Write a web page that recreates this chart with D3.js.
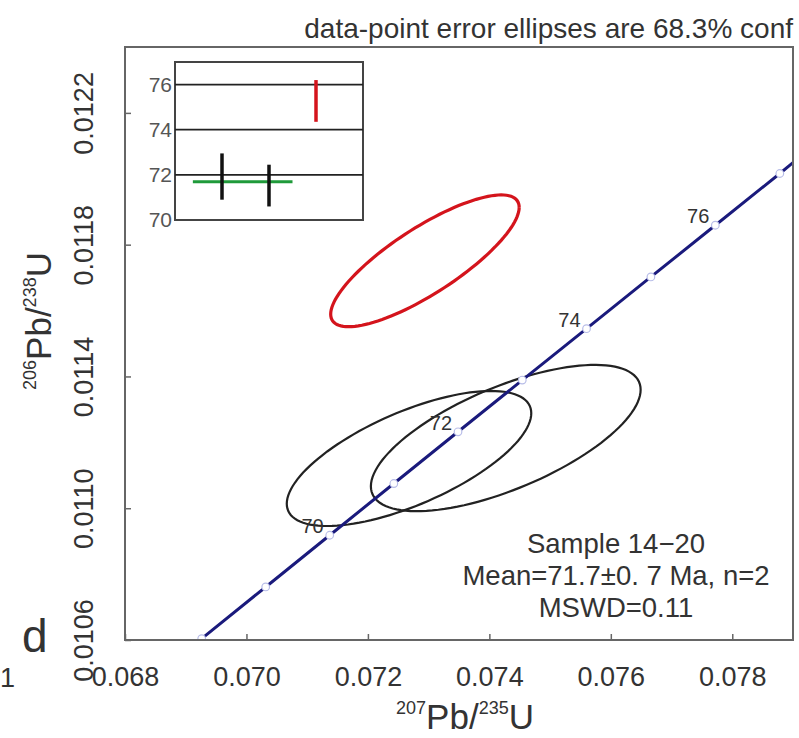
<!DOCTYPE html>
<html lang="en">
<head>
<meta charset="UTF-8">
<title>Concordia</title>
<style>
body { margin: 0; background: #fff; }
svg { font-family: "Liberation Sans", Arial, sans-serif; }
.lbl { fill: #333; }
</style>
</head>
<body>
<script src="https://cdn.jsdelivr.net/npm/d3@7/dist/d3.min.js"></script>
<script>
// concordia age marks (Ma) and their ratios
var markerAges = [68, 69, 70, 71, 72, 73, 74, 75, 76, 77];
var markerX = [0.069263, 0.070317, 0.071371, 0.072427, 0.073484, 0.074542, 0.075600, 0.076660, 0.077721, 0.078783];
var markerY = [0.010604, 0.010761, 0.010918, 0.011075, 0.011232, 0.011389, 0.011545, 0.011702, 0.011859, 0.012016];
var labelAges = [70, 72, 74, 76];
var lineEndX = 0.0790, lineEndY = 0.012049;

// data-point ellipses: centre, half extents, correlation
var ellNames = ["grain A", "grain B", "grain C"];
var ellCx = [0.072677, 0.074270, 0.072939];
var ellCy = [0.011151, 0.011213, 0.011751];
var ellSx = [0.002013, 0.002221, 0.001552];
var ellSy = [0.000205, 0.000222, 0.000200];
var ellRho = [0.67, 0.66, 0.81];
var ellColor = ["#222", "#222", "#d4141c"];

// inset: 206Pb/238U ages
var insetPos = [1, 2, 3];
var insetLo = [70.9, 70.6, 74.35];
var insetHi = [72.95, 72.45, 76.2];
var insetColor = ["#111", "#111", "#d4141c"];
var meanAge = 71.7;
var meanFrom = 0.38, meanTo = 2.5;
var insetTicks = [70, 72, 74, 76];

var xTicks = [0.068, 0.070, 0.072, 0.074, 0.076, 0.078];
var yTicks = [0.0106, 0.0110, 0.0114, 0.0118, 0.0122];

var W = 799, H = 738;
var pL = 125, pR = 793, pT = 47, pB = 640;

var svg = d3.select("body").append("svg")
    .attr("width", W).attr("height", H);

var x = d3.scaleLinear().domain([0.068, 0.079]).range([pL, pR]);
var y = d3.scaleLinear().domain([0.0106, 0.0124]).range([pB, pT]);

svg.append("clipPath").attr("id", "plotclip")
    .append("rect").attr("x", pL).attr("y", pT)
    .attr("width", pR - pL).attr("height", pB - pT);

var plot = svg.append("g").attr("clip-path", "url(#plotclip)");

// ellipses
var ellipse = function(i) {
    var pts = [];
    var k = Math.sqrt(1 - ellRho[i] * ellRho[i]);
    for (var j = 0; j <= 120; j++) {
        var t = j / 120 * 2 * Math.PI;
        pts.push([ellCx[i] + ellSx[i] * Math.cos(t),
                  ellCy[i] + ellSy[i] * (ellRho[i] * Math.cos(t) + k * Math.sin(t))]);
    }
    return pts;
};
var ellLine = d3.line().x(function(d) { return x(d[0]); }).y(function(d) { return y(d[1]); });

plot.selectAll(".ell").data(ellNames).enter().append("path")
    .attr("class", "ell")
    .attr("d", function(d, i) { return ellLine(ellipse(i)); })
    .attr("fill", "none")
    .attr("stroke", function(d, i) { return ellColor[i]; })
    .attr("stroke-width", function(d, i) { return i == 2 ? 3.2 : 2.2; });

// concordia
var conc = markerX.map(function(v, i) { return [v, markerY[i]]; });
conc.push([lineEndX, lineEndY]);
plot.append("path")
    .attr("d", ellLine(conc))
    .attr("fill", "none")
    .attr("stroke", "#1a1a7c")
    .attr("stroke-width", 3);

plot.selectAll(".mk").data(markerAges).enter().append("circle")
    .attr("class", "mk")
    .attr("cx", function(d, i) { return x(markerX[i]); })
    .attr("cy", function(d, i) { return y(markerY[i]); })
    .attr("r", 3.8)
    .attr("fill", "#fff")
    .attr("stroke", "#b8bde8")
    .attr("stroke-width", 1.2);

plot.selectAll(".age").data(labelAges).enter().append("text")
    .attr("class", "lbl")
    .attr("x", function(d) { return x(markerX[markerAges.indexOf(d)]) - 6; })
    .attr("y", function(d) { return y(markerY[markerAges.indexOf(d)]) - 2; })
    .attr("text-anchor", "end")
    .attr("font-size", 20)
    .attr("fill", "#444")
    .text(function(d) { return d; });

// frame
svg.append("rect")
    .attr("x", pL).attr("y", pT)
    .attr("width", pR - pL).attr("height", pB - pT)
    .attr("fill", "none").attr("stroke", "#666").attr("stroke-width", 2);

// axes
var xAxis = svg.append("g")
    .attr("transform", "translate(0," + pB + ")")
    .call(d3.axisBottom(x).tickValues(xTicks).tickFormat(d3.format(".3f"))
        .tickSizeInner(-6).tickSizeOuter(0));
xAxis.select(".domain").remove();
xAxis.selectAll("line").attr("stroke", "#666").attr("stroke-width", 1.5);
xAxis.selectAll("text")
    .attr("y", 46).attr("dy", null)
    .attr("font-size", 27).attr("fill", "#333");

var yAxis = svg.append("g")
    .attr("transform", "translate(" + pL + ",0)")
    .call(d3.axisLeft(y).tickValues(yTicks).tickFormat(d3.format(".4f"))
        .tickSizeInner(-6).tickSizeOuter(0));
yAxis.select(".domain").remove();
yAxis.selectAll("line").attr("stroke", "#666").attr("stroke-width", 1.5);
yAxis.selectAll("text")
    .attr("transform", "rotate(-90)")
    .attr("x", 0).attr("y", -32).attr("dy", null)
    .attr("text-anchor", "middle")
    .attr("font-size", 27).attr("fill", "#333");

// inset
var ix = d3.scaleLinear().domain([0, 4]).range([175, 363]);
var iy = d3.scaleLinear().domain([70, 77]).range([220, 62]);
var inset = svg.append("g");
inset.append("rect")
    .attr("x", ix(0)).attr("y", iy(77))
    .attr("width", ix(4) - ix(0)).attr("height", iy(70) - iy(77))
    .attr("fill", "#fff").attr("stroke", "#444").attr("stroke-width", 2);
inset.selectAll(".grid").data(insetTicks.slice(1)).enter().append("line")
    .attr("x1", ix(0)).attr("x2", ix(4))
    .attr("y1", function(d) { return iy(d); }).attr("y2", function(d) { return iy(d); })
    .attr("stroke", "#222").attr("stroke-width", 1.8);
inset.selectAll(".itk").data(insetTicks).enter().append("text")
    .attr("x", ix(0) - 3)
    .attr("y", function(d) { return iy(d); })
    .attr("dy", "0.35em")
    .attr("text-anchor", "end")
    .attr("font-size", 21)
    .attr("fill", "#555")
    .text(function(d) { return d; });
inset.append("line")
    .attr("x1", ix(meanFrom)).attr("x2", ix(meanTo))
    .attr("y1", iy(meanAge)).attr("y2", iy(meanAge))
    .attr("stroke", "#1f9a3a").attr("stroke-width", 3);
inset.selectAll(".bar").data(insetPos).enter().append("line")
    .attr("x1", function(d) { return ix(d); }).attr("x2", function(d) { return ix(d); })
    .attr("y1", function(d, i) { return iy(insetLo[i]); })
    .attr("y2", function(d, i) { return iy(insetHi[i]); })
    .attr("stroke", function(d, i) { return insetColor[i]; })
    .attr("stroke-width", 3.5);

// texts
svg.append("text").attr("class", "lbl")
    .attr("x", 793).attr("y", 38)
    .attr("text-anchor", "end").attr("font-size", 28)
    .text("data-point error ellipses are 68.3% conf");

var notes = ["Sample 14\u221220", "Mean=71.7\u00b10. 7 Ma, n=2", "MSWD=0.11"];
svg.selectAll(".note").data(notes).enter().append("text")
    .attr("class", "lbl")
    .attr("x", 616)
    .attr("y", function(d, i) { return 553 + i * 32; })
    .attr("text-anchor", "middle").attr("font-size", 27.5)
    .text(function(d) { return d; });

svg.append("text").attr("class", "lbl")
    .attr("x", 22).attr("y", 652).attr("font-size", 46).text("d");
svg.append("text").attr("class", "lbl")
    .attr("x", 0).attr("y", 687).attr("font-size", 27).text("1");

// axis titles
var xt = svg.append("text").attr("class", "lbl")
    .attr("x", 465).attr("y", 729).attr("text-anchor", "middle").attr("font-size", 35);
xt.append("tspan").attr("font-size", 18).attr("dy", -15).text("207");
xt.append("tspan").attr("dy", 15).text("Pb/");
xt.append("tspan").attr("font-size", 18).attr("dy", -15).text("235");
xt.append("tspan").attr("dy", 15).text("U");

var yt = svg.append("text").attr("class", "lbl")
    .attr("transform", "translate(51,321) rotate(-90)")
    .attr("text-anchor", "middle").attr("font-size", 35);
yt.append("tspan").attr("font-size", 18).attr("dy", -15).text("206");
yt.append("tspan").attr("dy", 15).text("Pb/");
yt.append("tspan").attr("font-size", 18).attr("dy", -15).text("238");
yt.append("tspan").attr("dy", 15).text("U");
</script>
</body>
</html>
